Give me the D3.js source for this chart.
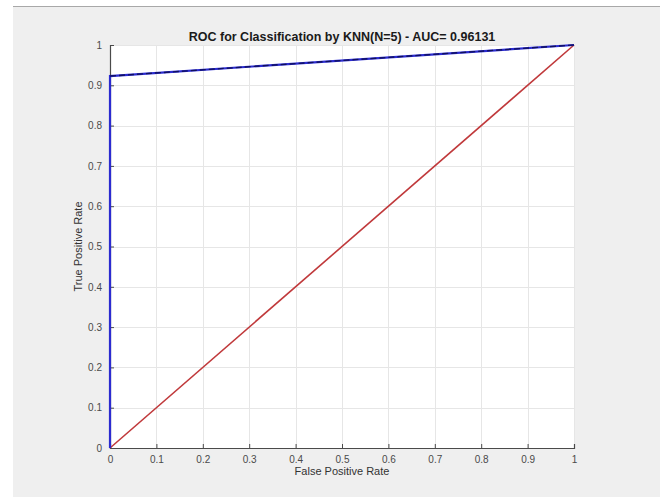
<!DOCTYPE html>
<html>
<head>
<meta charset="utf-8">
<script src="https://cdn.jsdelivr.net/npm/d3@7"></script>
<style>
  html, body { margin: 0; padding: 0; background: #fff; }
  svg { display: block; font-family: Arial, "Liberation Sans", sans-serif; }
</style>
</head>
<body>
<svg width="665" height="503"></svg>
<script>
// ROC points (false positive rate, true positive rate)
const rocFpr = [0, 0, 1]
const rocTpr = [0, 0.923, 1]
const chanceFpr = [0, 1]
const chanceTpr = [0, 1]
const tickValues = [0, 0.1, 0.2, 0.3, 0.4, 0.5, 0.6, 0.7, 0.8, 0.9, 1]
const title = 'ROC for Classification by KNN(N=5) - AUC= 0.96131'

const svg = d3.select('svg')

// grey figure panel
svg.append('rect').attr('x', 13).attr('y', 6).attr('width', 647).attr('height', 491).attr('fill', '#efefef')
svg.append('line').attr('x1', 13).attr('x2', 660).attr('y1', 6.5).attr('y2', 6.5).attr('stroke', '#a8a8a8').attr('stroke-width', 1)

const plotL = 110, plotR = 574, plotT = 45, plotB = 448
const x = d3.scaleLinear().domain([0, 1]).range([plotL, plotR])
const y = d3.scaleLinear().domain([0, 1]).range([plotB, plotT])

// white axes area
svg.append('rect').attr('x', plotL).attr('y', plotT).attr('width', plotR - plotL).attr('height', plotB - plotT).attr('fill', '#fff')

// grid
const grid = svg.append('g')
grid.selectAll('.gx').data(tickValues).join('line')
  .attr('x1', (d) => Math.round(x(d)) + 0.5).attr('x2', (d) => Math.round(x(d)) + 0.5)
  .attr('y1', plotT).attr('y2', plotB)
  .attr('stroke', '#e6e6e6')
grid.selectAll('.gy').data(tickValues).join('line')
  .attr('y1', (d) => Math.round(y(d)) + 0.5).attr('y2', (d) => Math.round(y(d)) + 0.5)
  .attr('x1', plotL).attr('x2', plotR)
  .attr('stroke', '#e6e6e6')

// axes
const xAxis = svg.append('g').attr('transform', `translate(0,${plotB})`)
  .call(d3.axisBottom(x).tickValues(tickValues).tickFormat(d3.format('~g')).tickSize(-4).tickPadding(8))
const yAxis = svg.append('g').attr('transform', `translate(${plotL},0)`)
  .call(d3.axisLeft(y).tickValues(tickValues).tickFormat(d3.format('~g')).tickSize(-4).tickPadding(8))
for (const ax of [xAxis, yAxis]) {
  ax.select('.domain').attr('stroke', '#4a4a4a').attr('stroke-width', 1.2)
  ax.selectAll('.tick line').attr('stroke', '#4a4a4a')
  ax.selectAll('.tick text').attr('fill', '#4a4a4a').attr('font-size', 10)
}

// lines
const line = d3.line().x((d) => x(d[0])).y((d) => y(d[1]))
const roc = rocFpr.map((d, i) => [d, rocTpr[i]])
const chance = chanceFpr.map((d, i) => [d, chanceTpr[i]])

svg.append('path').attr('d', line(chance)).attr('fill', 'none')
  .attr('stroke', '#c0393b').attr('stroke-width', 1.6)
svg.append('path').attr('d', line(roc)).attr('fill', 'none')
  .attr('stroke', '#2b2bd0').attr('stroke-width', 2.2)
svg.append('path').attr('d', line(roc.slice(1))).attr('fill', 'none')
  .attr('stroke', '#101060').attr('stroke-width', 1.4).attr('stroke-dasharray', '6,3')

// labels
svg.append('text').attr('x', 342).attr('y', 41).attr('text-anchor', 'middle')
  .attr('font-size', 12.5).attr('font-weight', 'bold').attr('fill', '#1a1a1a').text(title)
svg.append('text').attr('x', 342).attr('y', 475).attr('text-anchor', 'middle')
  .attr('font-size', 11).attr('fill', '#333').text('False Positive Rate')
svg.append('text').attr('transform', `translate(82,${(plotT + plotB) / 2}) rotate(-90)`)
  .attr('text-anchor', 'middle').attr('font-size', 11).attr('fill', '#333').text('True Positive Rate')
</script>
</body>
</html>
